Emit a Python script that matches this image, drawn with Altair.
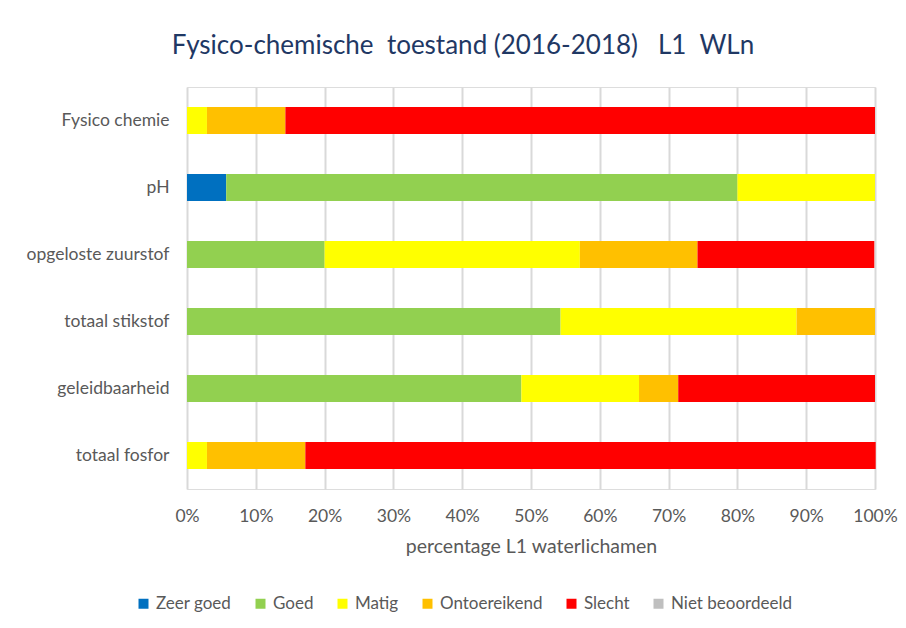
import altair as alt
import pandas as pd

parameters = ["Fysico chemie", "pH", "opgeloste zuurstof", "totaal stikstof", "geleidbaarheid", "totaal fosfor"]
classes = ["Zeer goed", "Goed", "Matig", "Ontoereikend", "Slecht", "Niet beoordeeld"]
colors = ["#0070C0", "#92D050", "#FFFF00", "#FFC000", "#FF0000", "#BFBFBF"]

# percentages per class, one list per class, in order of parameters
zeer_goed = [0.0, 5.7, 0.0, 0.0, 0.0, 0.0]
goed = [0.0, 74.3, 20.0, 54.3, 48.6, 0.0]
matig = [2.9, 20.0, 37.1, 34.3, 17.1, 2.9]
ontoereikend = [11.4, 0.0, 17.1, 11.4, 5.7, 14.3]
slecht = [85.7, 0.0, 25.7, 0.0, 28.6, 82.9]
niet_beoordeeld = [0.0, 0.0, 0.0, 0.0, 0.0, 0.0]

series = [zeer_goed, goed, matig, ontoereikend, slecht, niet_beoordeeld]
rows = []
for ci, (cls, vals) in enumerate(zip(classes, series)):
    for p, v in zip(parameters, vals):
        rows.append({"parameter": p, "klasse": cls, "orde": ci, "pct": v / 100.0})
df = pd.DataFrame(rows)

FONT = "Lato"
GREY = "#595959"
NB = "\u00a0"
title_text = f"Fysico-chemische{NB}{NB}toestand{NB}(2016-2018){NB}{NB}{NB}L1{NB}{NB}WLn"

chart = (
    alt.Chart(df)
    .mark_bar(size=27)
    .encode(
        y=alt.Y(
            "parameter:N",
            sort=parameters,
            title=None,
            scale=alt.Scale(paddingInner=0.6, paddingOuter=0.3),
            axis=alt.Axis(
                labelFont=FONT, labelFontSize=17.5, labelColor=GREY, labelPadding=18,
                ticks=False, domain=False, grid=False,
            ),
        ),
        x=alt.X(
            "pct:Q",
            stack="zero",
            scale=alt.Scale(domain=[0, 1], nice=False),
            title="percentage L1 waterlichamen",
            axis=alt.Axis(
                format="%", values=[i / 10 for i in range(11)],
                labelFont=FONT, labelFontSize=17.5, labelColor=GREY, labelPadding=18,
                labelFlush=False, labelOverlap=False,
                titleFont=FONT, titleFontSize=19.5, titleColor=GREY, titleFontWeight="normal",
                titlePadding=13,
                ticks=False, domain=False, grid=True, gridColor="#D9D9D9", gridWidth=2,
            ),
        ),
        color=alt.Color(
            "klasse:N",
            scale=alt.Scale(domain=classes, range=colors),
            legend=alt.Legend(
                title=None, orient="none", direction="horizontal",
                legendX=-52, legendY=508,
                symbolType="square", symbolSize=100, symbolStrokeWidth=0,
                labelFont=FONT, labelFontSize=17, labelColor=GREY,
                columnPadding=20, labelOffset=4,
            ),
        ),
        order=alt.Order("orde:Q"),
    )
    .properties(
        width=688,
        height=402,
        title=alt.TitleParams(
            title_text,
            font=FONT, fontSize=26, color="#1F3864", fontWeight="normal",
            anchor="middle", dx=-68, offset=28,
        ),
        autosize=alt.AutoSizeParams(type="none"),
        padding={"left": 179, "top": 79, "right": 23, "bottom": 131},
    )
    .configure_view(strokeWidth=0, stroke="transparent")
    .configure(background="white")
)

chart.save("out.html", embed_options={"renderer": "svg", "actions": False})
